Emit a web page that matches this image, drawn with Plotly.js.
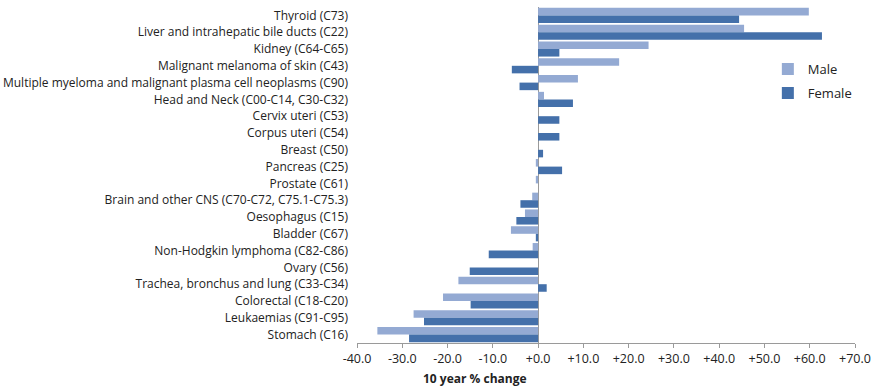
<!DOCTYPE html>
<html>
<head>
<meta charset="utf-8">
<script src="https://cdn.plot.ly/plotly-3.0.1.min.js"></script>
<style>html,body{margin:0;padding:0;background:#fff;}#chart{width:879px;height:388px;}</style>
</head>
<body>
<div id="chart"></div>
<script>
const categories = [
  "Thyroid (C73)",
  "Liver and intrahepatic bile ducts (C22)",
  "Kidney (C64-C65)",
  "Malignant melanoma of skin (C43)",
  "Multiple myeloma and malignant plasma cell neoplasms (C90)",
  "Head and Neck (C00-C14, C30-C32)",
  "Cervix uteri (C53)",
  "Corpus uteri (C54)",
  "Breast (C50)",
  "Pancreas (C25)",
  "Prostate (C61)",
  "Brain and other CNS (C70-C72, C75.1-C75.3)",
  "Oesophagus (C15)",
  "Bladder (C67)",
  "Non-Hodgkin lymphoma (C82-C86)",
  "Ovary (C56)",
  "Trachea, bronchus and lung (C33-C34)",
  "Colorectal (C18-C20)",
  "Leukaemias (C91-C95)",
  "Stomach (C16)"
];
const male = [59.8, 45.5, 24.4, 17.9, 8.8, 1.3, null, null, null, -0.5, -0.5, -1.3, -2.9, -6.0, -1.2, null, -17.6, -21.0, -27.5, -35.5];
const female = [44.4, 62.7, 4.7, -5.8, -4.1, 7.7, 4.7, 4.7, 1.1, 5.3, null, -3.9, -4.8, -0.5, -10.9, -15.1, 1.9, -14.9, -25.2, -28.5];
const seriesNames = ["Male", "Female"];
const xTickVals = [-40, -30, -20, -10, 0, 10, 20, 30, 40, 50, 60, 70];
const xTickLabels = ["-40.0", "-30.0", "-20.0", "-10.0", "+0.0", "+10.0", "+20.0", "+30.0", "+40.0", "+50.0", "+60.0", "+70.0"];
const xTitle = "10 year % change";

const FONT = "Open Sans, Liberation Sans, sans-serif";

const traces = [
  {type: "bar", orientation: "h", name: seriesNames[0], y: categories, x: male,
   legendgroup: "m", marker: {color: "#94AAD3"}, hoverinfo: "x+y"},
  {type: "bar", orientation: "h", name: seriesNames[1], y: categories, x: female,
   legendgroup: "f", marker: {color: "#4470AA"}, hoverinfo: "x+y"}
];

const layout = {
  width: 879, height: 388,
  margin: {l: 357, r: 24, t: 7, b: 45, autoexpand: false},
  paper_bgcolor: "#fff", plot_bgcolor: "#fff",
  font: {family: FONT, size: 12, color: "#222"},
  barmode: "group", bargap: 0.1, bargroupgap: 0,
  showlegend: true,
  legend: {x: 0.825, y: 0.86, xanchor: "left", yanchor: "top",
           traceorder: "grouped", tracegroupgap: 4,
           font: {family: FONT, size: 13, color: "#222"}, bgcolor: "rgba(0,0,0,0)",
           itemwidth: 30},
  xaxis: {range: [-40, 70], tickmode: "array", tickvals: xTickVals, ticktext: xTickLabels,
          automargin: false,
          showgrid: false, zeroline: true, zerolinecolor: "#9A9A9A", zerolinewidth: 1,
          showline: true, linecolor: "#9A9A9A", linewidth: 1,
          ticks: "outside", ticklen: 4, tickcolor: "#9A9A9A",
          tickfont: {family: FONT, size: 12.5, color: "#222"}, fixedrange: true},
  yaxis: {type: "category", autorange: "reversed", showgrid: false, zeroline: false,
          automargin: false,
          showline: false, ticks: "", ticklabelstandoff: 8,
          tickfont: {family: FONT, size: 12, color: "#222"}, fixedrange: true},
  annotations: [{text: "<b>" + xTitle + "</b>", xref: "paper", yref: "paper",
                 x: 0.237, y: -0.107, xanchor: "center", yanchor: "middle", showarrow: false,
                 font: {family: FONT, size: 12, color: "#222"}}]
};

Plotly.newPlot("chart", traces, layout, {displayModeBar: false, staticPlot: true});
</script>
</body>
</html>
